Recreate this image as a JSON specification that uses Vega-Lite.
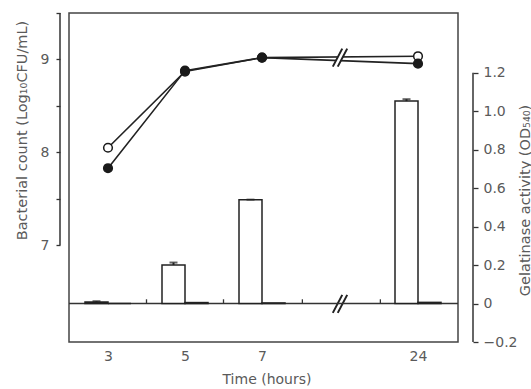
{
  "$schema": "https://vega.github.io/schema/vega-lite/v6.json",
  "width": 389,
  "height": 329,
  "autosize": {"type": "none"},
  "padding": {"left": 69, "top": 13, "right": 73, "bottom": 47},
  "background": "white",
  "config": {
    "view": {"stroke": "#444", "strokeWidth": 1.5},
    "font": "DejaVu Sans",
    "axis": {
      "grid": false,
      "labelFont": "DejaVu Sans",
      "labelFontSize": 14,
      "labelColor": "#5a5a5a",
      "titleFont": "DejaVu Sans",
      "titleFontSize": 14,
      "titleFontWeight": "normal",
      "titleColor": "#5a5a5a",
      "tickColor": "#333",
      "tickWidth": 1.3
    }
  },
  "datasets": {
    "counts": [
      {"time": 3, "series": "open", "count": 8.05},
      {"time": 5, "series": "open", "count": 8.87},
      {"time": 7, "series": "open", "count": 9.02},
      {"time": 24, "series": "open", "count": 9.035},
      {"time": 3, "series": "filled", "count": 7.83},
      {"time": 5, "series": "filled", "count": 8.88},
      {"time": 7, "series": "filled", "count": 9.02},
      {"time": 24, "series": "filled", "count": 8.955}
    ],
    "activityA": [
      {"time": 3, "od": 0.008, "lo": 0.004, "hi": 0.012},
      {"time": 5, "od": 0.2, "lo": 0.2, "hi": 0.213},
      {"time": 7, "od": 0.54, "lo": 0.54, "hi": 0.54},
      {"time": 24, "od": 1.052, "lo": 1.052, "hi": 1.062}
    ],
    "activityB": [
      {"time": 3, "od": 0.0},
      {"time": 5, "od": 0.005},
      {"time": 7, "od": 0.003},
      {"time": 24, "od": 0.006}
    ],
    "zeroTicks": [
      {"time": 4, "od": 0.022},
      {"time": 6, "od": 0.022},
      {"time": 11.4, "od": 0.022},
      {"time": 19.9, "od": 0.022}
    ],
    "breaks": [
      {"time": 15.5, "count": 9.02},
      {"time": 15.5, "count": 6.37}
    ]
  },
  "layer": [
    {
      "layer": [
        {
          "data": {"name": "counts"},
          "mark": {"type": "line", "color": "#222", "strokeWidth": 1.6},
          "encoding": {
            "x": {
              "field": "time", "type": "quantitative",
              "scale": {"domain": [1.75, 3, 5, 7, 24, 30], "range": [-9, 39, 116, 193, 349, 404], "nice": false, "zero": false, "padding": 0},
              "axis": {
                "orient": "bottom", "values": [3, 5, 7, 24], "ticks": false, "domain": false,
                "labelPadding": 7, "title": "Time (hours)", "titlePadding": 9, "format": "d"
              }
            },
            "y": {
              "field": "count", "type": "quantitative",
              "scale": {"domain": [5.96, 9.5], "nice": false, "zero": false},
              "axis": {
                "orient": "left", "offset": 9, "domain": false,
                "values": [7, 7.5, 8, 8.5, 9, 9.5],
                "labelExpr": "(datum.value==7||datum.value==8||datum.value==9) ? format(datum.value,'d') : ''",
                "tickSize": 4, "labelPadding": 7,
                "title": "Bacterial count (Log₁₀CFU/mL)", "titleFontSize": 14.5,
                "titleAngle": -90, "titleAlign": "center", "titleBaseline": "bottom",
                "titleX": -31, "titleY": 117
              }
            },
            "detail": {"field": "series"}
          }
        },
        {
          "data": {"name": "counts"},
          "mark": {"type": "point", "filled": true, "size": 75, "stroke": "#1a1a1a", "strokeWidth": 1.5, "opacity": 1},
          "encoding": {
            "x": {"field": "time", "type": "quantitative"},
            "y": {"field": "count", "type": "quantitative"},
            "fill": {"field": "series", "type": "nominal", "scale": {"domain": ["open", "filled"], "range": ["white", "#1a1a1a"]}, "legend": null}
          }
        },
        {
          "data": {"values": [{}]},
          "mark": {"type": "rule", "color": "#333", "strokeWidth": 1.5},
          "encoding": {
            "x": {"datum": 1.75, "type": "quantitative"},
            "y": {"datum": 7, "type": "quantitative"},
            "y2": {"datum": 9.5}
          }
        },
        {
          "data": {"name": "breaks"},
          "mark": {"type": "point", "shape": "M-0.8,1L0.25,-1L0.8,-1L-0.25,1Z", "filled": true, "fill": "white", "strokeWidth": 0, "size": 324, "opacity": 1},
          "encoding": {
            "x": {"field": "time", "type": "quantitative"},
            "y": {"field": "count", "type": "quantitative"}
          }
        },
        {
          "data": {"name": "breaks"},
          "mark": {"type": "point", "shape": "M-0.8,1L0.25,-1M-0.25,1L0.8,-1", "filled": false, "stroke": "#222", "strokeWidth": 2, "size": 324, "opacity": 1},
          "encoding": {
            "x": {"field": "time", "type": "quantitative"},
            "y": {"field": "count", "type": "quantitative"}
          }
        }
      ]
    },
    {
      "layer": [
        {
          "data": {"values": [{}]},
          "mark": {"type": "rule", "color": "#333", "strokeWidth": 1.5},
          "encoding": {
            "y": {
              "datum": 0, "type": "quantitative",
              "scale": {"domain": [-0.2, 1.51], "nice": false, "zero": false},
              "axis": {
                "orient": "right", "offset": 15, "domain": false,
                "values": [-0.2, 0, 0.2, 0.4, 0.6, 0.8, 1.0, 1.2],
                "labelExpr": "datum.value == 0 ? '0' : format(datum.value, '.1f')",
                "tickSize": 5, "labelPadding": 5,
                "title": "Gelatinase activity (OD₅₄₀)", "titleFontSize": 14.5,
                "titleAngle": -90, "titleAlign": "center", "titleBaseline": "top",
                "titleX": 45, "titleY": 187
              }
            }
          }
        },
        {
          "data": {"name": "zeroTicks"},
          "mark": {"type": "rule", "color": "#333", "strokeWidth": 1.3},
          "encoding": {
            "x": {"field": "time", "type": "quantitative"},
            "y": {"field": "od", "type": "quantitative"},
            "y2": {"datum": 0}
          }
        },
        {
          "data": {"name": "activityA"},
          "mark": {"type": "bar", "width": 23, "xOffset": -11.5, "fill": "white", "stroke": "#222", "strokeWidth": 1.5},
          "encoding": {
            "x": {"field": "time", "type": "quantitative"},
            "y": {"field": "od", "type": "quantitative"},
            "y2": {"datum": 0}
          }
        },
        {
          "data": {"name": "activityB"},
          "mark": {"type": "bar", "width": 23, "xOffset": 11.5, "fill": "white", "stroke": "#222", "strokeWidth": 1.5},
          "encoding": {
            "x": {"field": "time", "type": "quantitative"},
            "y": {"field": "od", "type": "quantitative"},
            "y2": {"datum": 0}
          }
        },
        {
          "data": {"name": "activityA"},
          "mark": {"type": "rule", "xOffset": -11.5, "color": "#222", "strokeWidth": 2},
          "encoding": {
            "x": {"field": "time", "type": "quantitative"},
            "y": {"field": "lo", "type": "quantitative"},
            "y2": {"field": "hi"}
          }
        },
        {
          "data": {"name": "activityA"},
          "mark": {"type": "tick", "orient": "horizontal", "xOffset": -11.5, "color": "#222", "thickness": 2, "size": 8},
          "encoding": {
            "x": {"field": "time", "type": "quantitative"},
            "y": {"field": "hi", "type": "quantitative"}
          }
        },
        {
          "data": {"values": [{}]},
          "mark": {"type": "rule", "color": "#333", "strokeWidth": 1.5},
          "encoding": {
            "x": {"datum": 30, "type": "quantitative"},
            "y": {"datum": -0.2, "type": "quantitative"},
            "y2": {"datum": 1.2}
          }
        }
      ]
    }
  ],
  "resolve": {"scale": {"y": "independent"}}
}
